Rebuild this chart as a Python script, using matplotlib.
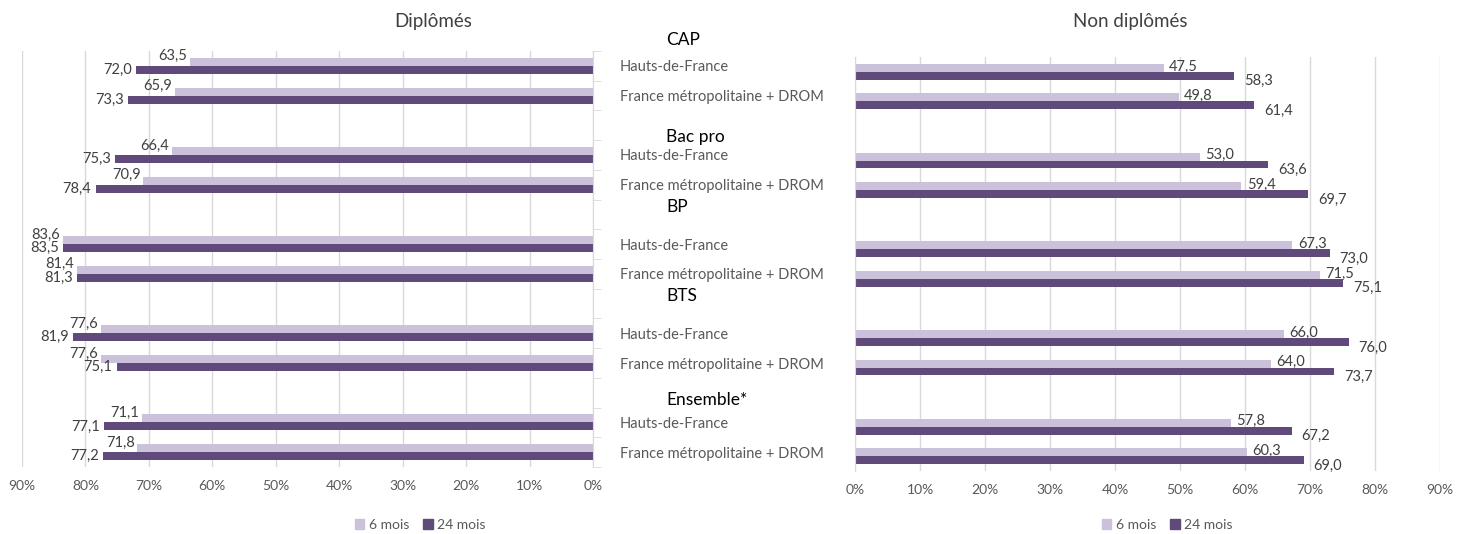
import matplotlib
matplotlib.use('Agg')
import matplotlib.pyplot as plt
from matplotlib.patches import Patch
import numpy as np

plt.rcParams['font.family'] = ['Lato', 'DejaVu Sans']

# data
groups = ['CAP', 'Bac pro', 'BP', 'BTS', 'Ensemble*']
regions = ['Hauts-de-France', 'France métropolitaine + DROM']
series = ['6 mois', '24 mois']

dipl_6 = [63.5, 65.9, 66.4, 70.9, 83.6, 81.4, 77.6, 77.6, 71.1, 71.8]
dipl_24 = [72.0, 73.3, 75.3, 78.4, 83.5, 81.3, 81.9, 75.1, 77.1, 77.2]
nondipl_6 = [47.5, 49.8, 53.0, 59.4, 67.3, 71.5, 66.0, 64.0, 57.8, 60.3]
nondipl_24 = [58.3, 61.4, 63.6, 69.7, 73.0, 75.1, 76.0, 73.7, 67.2, 69.0]

light = '#CCC1DA'
dark = '#604A7B'
grid_c = '#D9D9D9'
txt_c = '#404040'
tick_c = '#595959'

W, H = 1475, 534
fig = plt.figure(figsize=(W / 100, H / 100), dpi=100)

def fx(px):
    return px / W

def fy(py):
    return 1 - py / H

# slot positions: 3 slots per group (two regions + blank)
pos = np.array([3 * g + r for g in range(len(groups)) for r in range(len(regions))])
bh = 0.27
nslots = 14

def fmt(v):
    return f"{v:.1f}".replace('.', ',')

def draw(ax, v6, v24, left_side):
    ax.barh(pos - bh / 2, v6, height=bh, color=light, label=series[0])
    ax.barh(pos + bh / 2, v24, height=bh, color=dark, label=series[1])
    ax.set_ylim(nslots - 0.5, -0.5)
    ax.set_xlim((90, 0) if left_side else (0, 90))
    ax.set_xticks(np.arange(0, 91, 10))
    ax.set_xticklabels([f"{t}%" for t in range(0, 91, 10)], color=tick_c, fontsize=10)
    ax.tick_params(axis='x', length=0, pad=9)
    ax.grid(axis='x', color=grid_c, linewidth=1)
    ax.set_axisbelow(True)
    for s in ax.spines.values():
        s.set_visible(False)
    if left_side:
        ax.spines['right'].set_visible(True)
        ax.spines['right'].set_color(grid_c)
        ax.yaxis.tick_right()
        ax.set_yticks(np.arange(nslots + 1) - 0.5, minor=True)
        ax.tick_params(axis='y', which='minor', length=6, color=grid_c, right=True, left=False)
        ax.set_yticks(pos)
        ax.set_yticklabels(regions * len(groups), fontsize=10.5, color=tick_c)
        ax.tick_params(axis='y', which='major', length=0, pad=19.5)
    else:
        ax.spines['left'].set_visible(True)
        ax.spines['left'].set_color(grid_c)
        ax.set_yticks([])
    for y, a, b in zip(pos, v6, v24):
        if left_side:
            ax.annotate(fmt(a), (a, y - bh / 2), xytext=(-2, 4), textcoords='offset points',
                        ha='right', va='center', fontsize=10.5, color=txt_c)
            ax.annotate(fmt(b), (b, y + bh / 2), xytext=(-3, 0), textcoords='offset points',
                        ha='right', va='center', fontsize=10.5, color=txt_c)
        else:
            ax.annotate(fmt(a), (a, y - bh / 2), xytext=(4, 1), textcoords='offset points',
                        ha='left', va='center', fontsize=10.5, color=txt_c)
            ax.annotate(fmt(b), (b, y + bh / 2), xytext=(7, -4), textcoords='offset points',
                        ha='left', va='center', fontsize=10.5, color=txt_c)

ax1 = fig.add_axes([fx(22), fy(467), fx(593 - 22), fy(51) - fy(467)])
draw(ax1, dipl_6, dipl_24, True)
ax2 = fig.add_axes([fx(855), fy(471), fx(1440 - 855), fy(57) - fy(471)])
draw(ax2, nondipl_6, nondipl_24, False)

fig.text(fx(433), fy(22), 'Diplômés', ha='center', va='center', fontsize=13.5, color=txt_c)
fig.text(fx(1130), fy(22), 'Non diplômés', ha='center', va='center', fontsize=13.5, color=txt_c)

# group labels in the middle
group_y = [40, 137, 207, 296, 400]
for name, gy in zip(groups, group_y):
    fig.text(fx(666), fy(gy), name, ha='left', va='center', fontsize=12.5, color='black')

for ax, cx in [(ax1, 420), (ax2, 1167)]:
    handles = [Patch(color=light), Patch(color=dark)]
    fig.legend(handles, series, loc='center', bbox_to_anchor=(fx(cx), fy(525)), ncol=2,
               frameon=False, fontsize=10, labelcolor=tick_c, handlelength=0.7,
               handleheight=0.7, handletextpad=0.3, columnspacing=1.0)

fig.savefig('out.png', dpi=100)
